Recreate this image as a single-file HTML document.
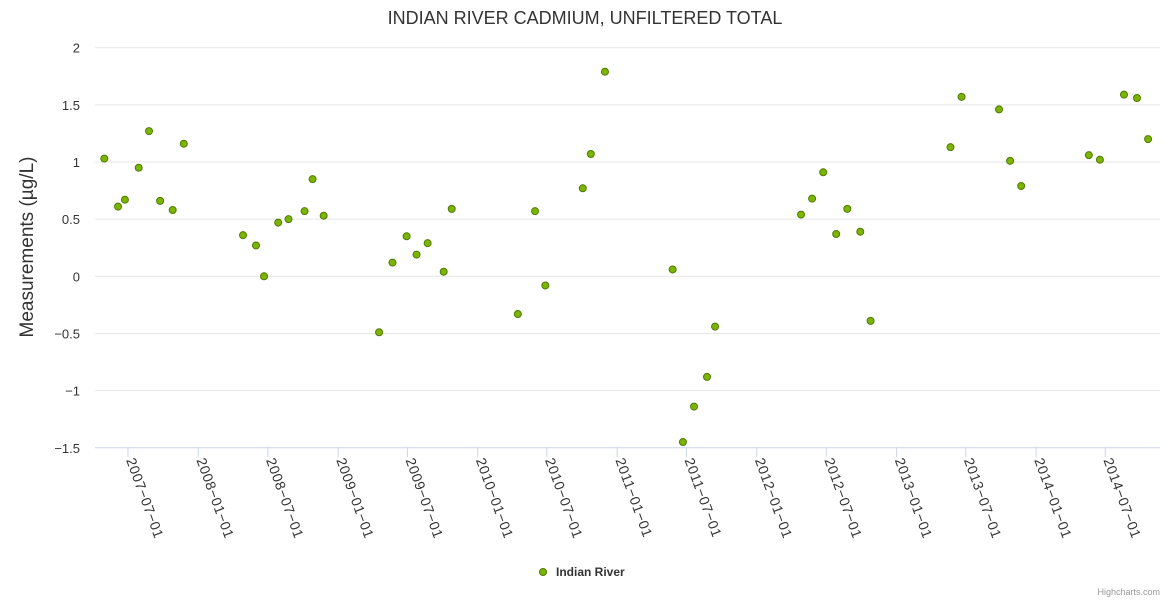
<!DOCTYPE html>
<html><head><meta charset="utf-8"><style>
body{margin:0;background:#fff;font-family:"Liberation Sans",sans-serif}
svg text{font-family:"Liberation Sans",sans-serif}
</style></head><body>
<svg id="chart" width="1170" height="600">
<rect width="1170" height="600" fill="#fff"/>
<text x="585" y="24" text-anchor="middle" font-size="18" fill="#333">INDIAN RIVER CADMIUM, UNFILTERED TOTAL</text>
<g id="grid"></g><g id="yt"></g><g id="xt"></g><g id="pts"></g>
<text transform="translate(33,247) rotate(-90)" text-anchor="middle" font-size="19" fill="#333">Measurements (µg/L)</text>
<g>
<circle cx="543" cy="572" r="3.5" fill="#7cb500" stroke="#4e7a00" stroke-width="1"/>
<text x="556" y="576" font-size="12" font-weight="bold" fill="#333">Indian River</text></g>
<text x="1160" y="595" text-anchor="end" font-size="9" fill="#999">Highcharts.com</text>
</svg>
<script>
const dates=["2007-04-30","2007-06-05","2007-06-23","2007-07-29","2007-08-25","2007-09-23","2007-10-26","2007-11-24","2008-04-27","2008-05-31","2008-06-21","2008-07-28","2008-08-24","2008-10-05","2008-10-26","2008-11-24","2009-04-18","2009-05-23","2009-06-29","2009-07-25","2009-08-23","2009-10-04","2009-10-25","2010-04-16","2010-05-31","2010-06-27","2010-10-03","2010-10-24","2010-11-30","2011-05-26","2011-06-22","2011-07-21","2011-08-24","2011-09-14","2012-04-26","2012-05-25","2012-06-23","2012-07-27","2012-08-25","2012-09-28","2012-10-25","2013-05-22","2013-06-20","2013-09-26","2013-10-25","2013-11-23","2014-05-19","2014-06-17","2014-08-19","2014-09-22","2014-10-21"];
const values=[1.03,0.61,0.67,0.95,1.27,0.66,0.58,1.16,0.36,0.27,0.0,0.47,0.50,0.57,0.85,0.53,-0.49,0.12,0.35,0.19,0.29,0.04,0.59,-0.33,0.57,-0.08,0.77,1.07,1.79,0.06,-1.45,-1.14,-0.88,-0.44,0.54,0.68,0.91,0.37,0.59,0.39,-0.39,1.13,1.57,1.46,1.01,0.79,1.06,1.02,1.59,1.56,1.20];
const yTicks=[2,1.5,1,0.5,0,-0.5,-1,-1.5];
const xTicks=["2007-07-01","2008-01-01","2008-07-01","2009-01-01","2009-07-01","2010-01-01","2010-07-01","2011-01-01","2011-07-01","2012-01-01","2012-07-01","2013-01-01","2013-07-01","2014-01-01","2014-07-01"];
const NS="http://www.w3.org/2000/svg";
const t0=Date.UTC(2008,0,1);
function X(d){return 198.3+(Date.parse(d+"T00:00:00Z")-t0)/86400000*0.3822;}
function Y(v){return 276.3-v*114.3;}
function mk(tag,attrs,parent){const e=document.createElementNS(NS,tag);for(const k in attrs)e.setAttribute(k,attrs[k]);document.getElementById(parent).appendChild(e);return e;}
yTicks.forEach(v=>{
 const l=mk("line",{x1:95,x2:1160,y1:Y(v),y2:Y(v),stroke:v===-1.5?"#ccd6eb":"#e6e6e6","stroke-width":1},"grid");
 
 
 const t=mk("text",{x:80,y:Y(v)+5,"text-anchor":"end","font-size":13,fill:"#333"},"yt");
 t.textContent=v===0?"0":String(v).replace("-","−");
 
 
});
xTicks.forEach(d=>{
 const x=X(d);
 const l=mk("line",{x1:x,x2:x,y1:447,y2:457,stroke:"#ccd6eb"},"xt");
 
 
 const t=mk("text",{transform:`translate(${x-2},460) rotate(70)`,"font-size":14,fill:"#333","letter-spacing":"0.6"},"xt");
 t.textContent=d.replace(/-/g,"−");
 
 
});
dates.forEach((d,i)=>{
 const c=mk("circle",{cx:X(d),cy:Y(values[i]),r:3.5,fill:"#7cb500",stroke:"#4e7a00","stroke-width":1},"pts");
 
 
});
</script>
</body></html>
